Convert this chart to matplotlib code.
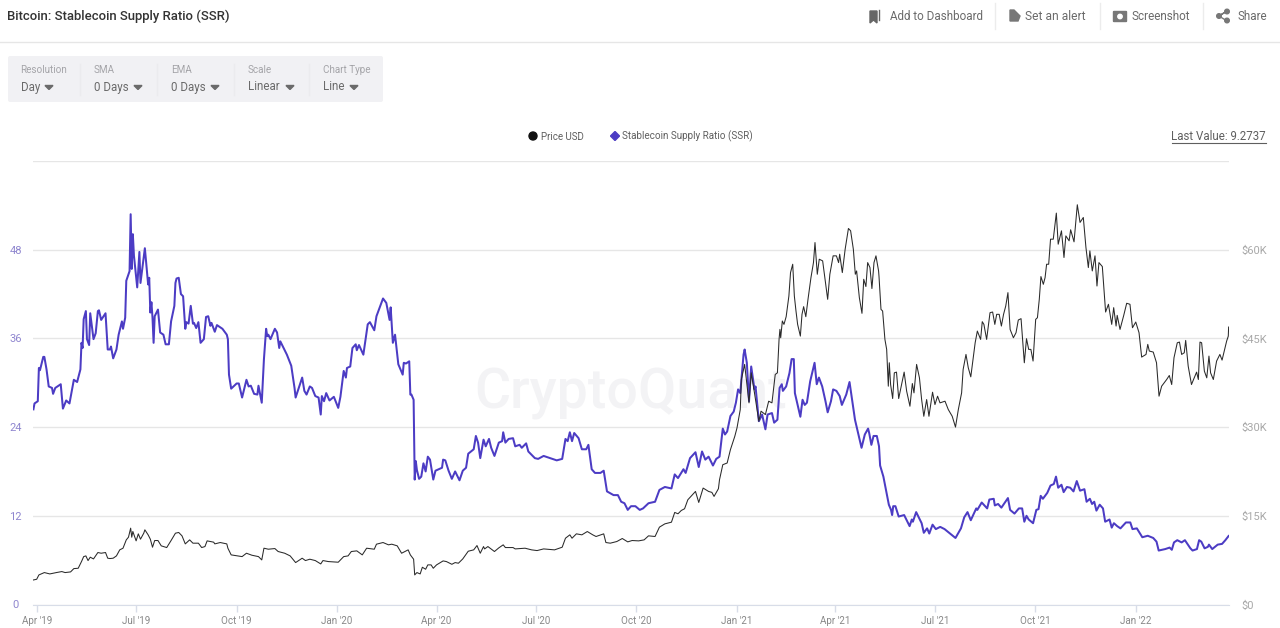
import matplotlib
matplotlib.use('Agg')
import matplotlib.pyplot as plt
from matplotlib.patches import FancyBboxPatch, Polygon, Circle, Rectangle
import pandas as pd

plt.rcParams['font.family'] = ['Roboto', 'DejaVu Sans']

# days since 1 Apr 2019
ssr_days = [-3, -2, 1, 2, 3, 6, 7, 9, 11, 14, 15, 17, 22, 24, 27, 30, 34, 37, 40, 41, 42, 43, 45, 46, 48, 49, 52, 54, 56, 57,
            59, 63, 65, 67, 68, 70, 73, 75, 78, 79, 81, 82, 85, 86, 87, 88, 89, 92, 94, 95, 99, 102, 103, 104, 105, 106, 107, 108, 111, 113,
            116, 118, 121, 123, 126, 127, 128, 130, 132, 134, 136, 137, 139, 141, 143, 144, 146, 148, 150, 153, 155, 157, 159, 160, 163, 165, 170, 174, 175, 176,
            178, 183, 185, 188, 192, 194, 196, 199, 202, 203, 206, 208, 210, 211, 212, 214, 218, 220, 222, 223, 226, 229, 233, 236, 237, 243, 245, 247, 250, 252,
            255, 258, 260, 261, 263, 265, 268, 272, 276, 278, 281, 283, 284, 287, 289, 292, 293, 295, 299, 303, 305, 309, 311, 317, 320, 323, 324, 326, 328, 331,
            335, 336, 338, 341, 342, 343, 345, 346, 347, 348, 350, 352, 354, 356, 358, 360, 363, 365, 371, 372, 374, 377, 380, 383, 387, 390, 393, 395, 400, 402,
            404, 406, 409, 411, 414, 416, 419, 423, 426, 427, 429, 432, 436, 438, 442, 444, 448, 450, 456, 459, 464, 470, 476, 481, 484, 486, 488, 490, 492, 496,
            499, 503, 505, 508, 511, 516, 519, 522, 528, 532, 535, 538, 541, 544, 548, 552, 555, 560, 566, 570, 575, 581, 584, 587, 592, 594, 598, 603, 606, 609,
            612, 615, 619, 622, 625, 628, 630, 632, 635, 638, 640, 642, 644, 647, 648, 650, 652, 654, 657, 658, 661, 664, 667, 669, 673, 675, 678, 680, 682, 683,
            686, 689, 691, 693, 694, 696, 699, 701, 703, 705, 708, 712, 714, 716, 719, 722, 724, 727, 729, 732, 735, 737, 741, 744, 745, 749, 753, 755, 758, 761,
            762, 764, 766, 769, 771, 772, 775, 779, 780, 782, 783, 784, 786, 789, 794, 799, 801, 802, 805, 810, 812, 815, 817, 820, 823, 827, 831, 836, 841, 846,
            849, 852, 855, 860, 861, 865, 870, 872, 876, 877, 880, 883, 889, 891, 895, 899, 902, 904, 906, 908, 912, 915, 917, 919, 921, 925, 928, 931, 933, 935,
            938, 940, 943, 946, 949, 952, 955, 959, 961, 964, 966, 968, 970, 973, 976, 978, 982, 984, 986, 989, 992, 997, 1001, 1003, 1007, 1012, 1017, 1022, 1025, 1027,
            1033, 1037, 1039, 1041, 1044, 1048, 1051, 1056, 1058, 1062, 1064, 1066, 1069, 1072, 1073, 1076, 1081, 1085, 1088, 1091]
ssr_values = [26.4, 27.2, 27.5, 32.0, 31.7, 33.5, 33.5, 31.8, 29.5, 29.3, 28.5, 29.3, 29.8, 26.5, 27.6, 27.2, 30.4, 30.1, 31.8, 35.4, 34.7, 38.6, 39.7, 35.9, 35.1, 39.4, 35.9, 36.7, 39.7, 39.8,
              38.5, 39.4, 34.5, 34.5, 34.9, 33.3, 34.5, 36.5, 38.3, 37.3, 38.8, 43.8, 45.1, 52.8, 45.4, 50.1, 47.2, 42.9, 47.7, 43.5, 48.2, 43.3, 44.2, 39.5, 40.9, 38.8, 35.4, 39.0, 39.9, 36.8,
              36.5, 35.2, 35.2, 38.3, 40.4, 43.5, 44.1, 44.2, 42.0, 41.7, 37.3, 38.2, 38.0, 40.4, 38.0, 38.1, 37.4, 38.2, 35.4, 35.9, 38.9, 39.0, 37.7, 38.1, 36.9, 37.8, 37.3, 36.5, 35.9, 31.1,
              29.2, 29.9, 29.9, 28.0, 30.4, 29.5, 29.6, 28.5, 28.4, 29.6, 27.3, 33.2, 37.3, 36.3, 36.5, 35.9, 37.3, 36.8, 34.7, 35.6, 34.7, 33.8, 32.3, 29.3, 28.0, 30.7, 28.9, 28.4, 29.5, 29.3,
              28.2, 28.0, 25.7, 28.2, 27.5, 28.6, 27.6, 28.1, 26.6, 28.1, 31.6, 30.7, 32.0, 32.2, 34.7, 35.2, 34.4, 35.1, 33.8, 37.9, 38.2, 37.1, 39.0, 41.4, 40.8, 38.5, 40.2, 35.4, 36.5, 32.5,
              31.1, 32.7, 32.6, 32.9, 28.4, 28.4, 27.7, 16.9, 19.4, 18.2, 17.0, 17.3, 19.1, 18.0, 20.0, 19.6, 16.9, 18.1, 18.5, 19.6, 19.5, 18.1, 17.0, 18.0, 16.8, 18.1, 18.5, 20.4, 21.0, 22.8,
              21.9, 19.8, 22.3, 21.4, 22.4, 21.2, 20.1, 21.9, 22.1, 23.3, 21.9, 22.4, 22.5, 21.4, 21.6, 21.2, 21.8, 20.7, 19.8, 19.7, 20.1, 19.8, 19.5, 19.7, 22.4, 22.1, 23.3, 22.1, 23.2, 22.5,
              21.0, 21.0, 21.6, 18.3, 17.8, 17.8, 18.1, 15.3, 14.8, 14.8, 13.9, 13.7, 12.8, 13.3, 13.3, 12.8, 13.0, 13.7, 13.9, 15.5, 15.9, 15.7, 17.6, 17.1, 18.3, 17.8, 19.8, 20.6, 18.6, 20.7,
              19.6, 20.0, 18.8, 19.7, 20.0, 23.8, 23.0, 23.4, 25.5, 26.1, 27.3, 29.1, 28.6, 33.8, 34.5, 32.7, 27.5, 32.2, 29.1, 29.5, 24.8, 25.7, 23.7, 25.7, 25.9, 24.6, 25.0, 29.3, 29.8, 28.9,
              29.5, 31.3, 33.2, 33.2, 28.6, 27.3, 25.4, 27.7, 27.0, 27.3, 30.2, 32.7, 29.8, 30.7, 29.5, 27.5, 26.0, 27.5, 29.1, 28.9, 28.2, 27.0, 28.4, 30.1, 29.1, 25.0, 22.5, 21.2, 23.0, 23.8,
              23.2, 21.6, 22.8, 22.8, 21.4, 18.8, 17.3, 14.2, 13.5, 12.8, 12.1, 13.3, 13.3, 11.9, 12.1, 10.6, 11.5, 11.2, 12.5, 11.0, 9.7, 10.3, 9.6, 10.8, 10.2, 10.5, 10.2, 9.6, 9.0, 10.3,
              11.8, 12.5, 11.4, 13.0, 12.8, 13.8, 13.0, 14.2, 14.3, 13.4, 13.6, 13.1, 14.4, 12.8, 12.3, 13.0, 13.0, 11.2, 12.0, 11.5, 11.0, 12.8, 12.9, 14.7, 14.3, 15.1, 16.1, 16.3, 17.3, 15.8,
              16.2, 15.2, 15.9, 15.8, 15.3, 16.7, 15.4, 15.6, 13.9, 14.3, 13.6, 13.9, 12.7, 13.5, 13.0, 11.2, 11.5, 10.4, 11.0, 10.6, 10.3, 11.1, 11.1, 10.2, 10.3, 9.1, 9.3, 9.0, 8.5, 7.3,
              7.5, 7.7, 7.4, 8.4, 8.7, 8.4, 8.7, 7.6, 7.3, 7.5, 8.7, 8.5, 7.6, 7.8, 8.1, 7.5, 8.1, 8.2, 8.7, 9.27]

price_days = [-3, 0, 2, 7, 12, 18, 23, 26, 31, 34, 38, 41, 43, 45, 47, 49, 52, 56, 59, 63, 65, 67, 70, 73, 76, 79, 82, 84, 86, 87,
              88, 91, 93, 95, 98, 99, 102, 104, 106, 108, 111, 114, 119, 123, 127, 130, 133, 136, 140, 143, 148, 151, 154, 156, 162, 163, 168, 174, 175, 178,
              182, 188, 192, 197, 203, 206, 208, 212, 218, 221, 227, 232, 237, 243, 246, 250, 255, 260, 262, 267, 276, 281, 285, 288, 293, 298, 302, 309, 311, 317,
              322, 325, 330, 334, 340, 342, 345, 346, 348, 351, 353, 356, 358, 361, 363, 366, 372, 375, 380, 383, 386, 390, 395, 400, 403, 406, 409, 410, 413, 419,
              423, 427, 429, 436, 438, 447, 453, 458, 464, 474, 481, 484, 488, 490, 494, 499, 504, 509, 512, 519, 521, 525, 531, 536, 541, 545, 551, 556, 560, 566,
              570, 575, 581, 584, 587, 590, 593, 596, 601, 603, 606, 610, 615, 618, 620, 624, 625, 628, 632, 635, 639, 641, 644, 645, 648, 652, 654, 657, 661, 663,
              667, 670, 673, 676, 678, 679.5, 680.3, 681, 682.5, 684, 686, 688.5, 690, 692, 693.5, 695, 696.5, 699, 700.5, 702, 704, 706, 708.7, 711, 712.4, 714.5, 716.3, 719.4, 722, 724,
              726, 729, 732, 734, 735, 737.4, 740, 743, 745, 747.5, 749.3, 750.5, 753, 755.4, 757, 759, 760.6, 762.7, 764.5, 766.4, 768.2, 770.6, 771, 772.8, 774.3, 776.4, 778, 779.5, 780.4, 781.6,
              783.5, 785, 787, 789, 791.7, 794, 796.3, 799.3, 801.5, 803, 805.4, 808, 810, 812, 814.6, 816.7, 820, 822.2, 824.6, 826.8, 831.4, 834.4, 838, 841, 843.6, 846.6, 848, 850.6, 852.7, 855,
              859, 861, 864, 865.5, 867, 869.5, 872.6, 875, 877, 878.7, 881, 883, 885, 887, 889, 891, 894, 896.4, 898.5, 901, 904, 906, 908, 910, 912, 914.4, 916, 917.7, 919.2, 921.4,
              923, 924.4, 926.3, 928, 930.5, 933.3, 935, 938, 940.3, 942, 945, 946.4, 949.5, 952.5, 955, 958, 960.4, 962.6, 964, 966.2, 968.7, 970.5, 972.3, 975.4, 978.4, 981, 984, 985.8, 988, 989,
              991.6, 995, 997.7, 1000.7, 1003, 1006, 1009, 1011.4, 1015.4, 1017, 1018.4, 1022, 1025, 1027.3, 1029.7, 1034.3, 1036.7, 1038.9, 1041, 1044, 1046, 1048, 1050.4, 1051.7, 1054, 1057, 1061.7, 1063.3, 1064.8, 1066.3,
              1068.8, 1071, 1073, 1074.5, 1077, 1080, 1083, 1085, 1089.2, 1090.7, 1091]
price_values = [4150, 4270, 5000, 5400, 5170, 5400, 5570, 5400, 5510, 6070, 6130, 7260, 8100, 8220, 7430, 8000, 7710, 8790, 8670, 8790, 7830, 7770, 7830, 8220, 9240, 9520, 10930, 11380, 12910, 11380,
                12350, 10760, 11950, 11050, 12060, 12630, 11780, 11050, 9690, 10820, 10820, 9920, 9630, 10820, 12060, 12180, 11610, 10250, 10930, 10370, 10370, 9630, 9800, 10760, 10540, 10250, 10480, 10250, 9520, 8390,
                8280, 8100, 8670, 8330, 8100, 7540, 9520, 9350, 9460, 8960, 8670, 8220, 7090, 7830, 7430, 7660, 7430, 6860, 7430, 7260, 7150, 8100, 8220, 8960, 9070, 8390, 9520, 9350, 10200, 10480,
                10090, 10200, 9920, 8670, 9240, 8390, 7660, 5000, 5400, 5170, 6300, 5960, 6700, 6700, 6130, 6700, 7370, 7260, 6800, 7090, 6980, 7710, 9010, 9240, 9970, 8670, 9800, 9400, 9800, 8960,
                9580, 10090, 9630, 9630, 9400, 9520, 9240, 9120, 9400, 9240, 9690, 11210, 11780, 11210, 11950, 11780, 12340, 11780, 11500, 11950, 10480, 10370, 10650, 11160, 10590, 10820, 10760, 10930, 11610, 11500,
                13080, 13640, 13920, 15570, 15340, 15900, 16190, 17710, 18730, 19120, 17260, 19690, 19120, 18960, 18280, 19580, 21100, 23640, 23930, 26190, 28450, 29860, 32970, 38050, 40600, 34100, 39180, 35790, 30990, 32690,
                32120, 34380, 34100, 38900, 39180, 44830, 46530, 45110, 47940, 47370, 48670, 52170, 56130, 57540, 52170, 49630, 47370, 45390, 49070, 50370, 48670, 51610, 55280, 57820, 61210, 55850, 58390, 58110, 54430, 51610,
                55850, 58960, 58960, 57820, 59240, 56130, 60080, 63590, 63200, 60080, 55850, 56410, 51890, 49240, 55000, 53770, 57820, 56980, 53430, 57820, 58960, 56410, 55450, 49910, 49630, 44830, 43140, 36920, 40880, 37200,
                34830, 39180, 39300, 34830, 37200, 39300, 36070, 33530, 37370, 35790, 40600, 38330, 34660, 31830, 34660, 31830, 35900, 33810, 35230, 34100, 34380, 32970, 31830, 30000, 32970, 35790, 39750, 42290, 40030, 38500,
                44260, 46240, 44830, 47830, 47370, 44830, 49350, 49460, 47370, 49070, 49070, 47090, 49070, 50480, 52740, 46520, 45110, 45960, 48110, 48340, 40880, 44950, 43140, 43140, 41170, 48220, 48500, 51610, 55460, 54150,
                55280, 57540, 57540, 61780, 61780, 66190, 60930, 63190, 58680, 62340, 61500, 63370, 61330, 67600, 64610, 65450, 60370, 56980, 59800, 56410, 58960, 53860, 57820, 57150, 49460, 50770, 47370, 50200, 47090, 48900,
                46520, 48900, 50940, 50770, 46800, 47770, 45960, 41840, 42290, 43990, 42860, 42690, 40880, 35230, 36920, 38050, 38730, 37200, 41730, 44260, 44380, 42290, 42570, 44660, 40310, 37200, 39300, 38050, 44380, 44260,
                39470, 38330, 42010, 39180, 38050, 41170, 42290, 41330, 44550, 45390, 46920]

tick_dates = ['2019-04-01', '2019-07-01', '2019-10-01', '2020-01-01', '2020-04-01', '2020-07-01',
              '2020-10-01', '2021-01-01', '2021-04-01', '2021-07-01', '2021-10-01', '2022-01-01']
tick_labels = ["Apr '19", "Jul '19", "Oct '19", "Jan '20", "Apr '20", "Jul '20",
               "Oct '20", "Jan '21", "Apr '21", "Jul '21", "Oct '21", "Jan '22"]
ssr_ticks = [0, 12, 24, 36, 48, 60]
ssr_tick_labels = ['0', '12', '24', '36', '48', '']
price_ticks = [0, 15000, 30000, 45000, 60000, 75000]
price_tick_labels = ['$0', '$15K', '$30K', '$45K', '$60K', '']

PURPLE = '#4c3cc4'
W, H = 1280, 628

fig = plt.figure(figsize=(W / 100, H / 100), dpi=100, facecolor='white')

# page furniture in pixel coordinates
ui = fig.add_axes([0, 0, 1, 1], zorder=0)
ui.set_xlim(0, W)
ui.set_ylim(H, 0)
ui.axis('off')

ui.text(7, 16, 'Bitcoin: Stablecoin Supply Ratio (SSR)', fontsize=9.45, color='#333333', va='center', fontweight='medium')
ui.plot([0, W], [42, 42], color='#e6e6e6', lw=1)

header_items = [(890, 'Add to Dashboard', 8.35), (1025, 'Set an alert', 8.65), (1132, 'Screenshot', 8.5), (1237, 'Share', 8.4)]
for x, label, size in header_items:
    ui.text(x, 16, label, fontsize=size, color='#6a6a6a', va='center')
for x in [995, 1100, 1203]:
    ui.plot([x, x], [3, 29], color='#ececec', lw=1)

# icons
ui.add_patch(Polygon([(870, 11), (877, 11), (877, 23), (873.5, 20), (870, 23)], color='#666666'))
ui.plot([879, 879], [10, 20], color='#666666', lw=1)
ui.add_patch(Polygon([(1010, 10), (1014, 10), (1020, 16), (1018, 21), (1010, 21)], color='#777777'))
ui.add_patch(FancyBboxPatch((1114, 12), 12, 9, boxstyle='round,pad=0.5', color='#777777'))
ui.add_patch(Circle((1120, 16.5), 2.2, color='white'))
ui.plot([1219, 1227, 1219, 1227], [16, 11, 16, 21], color='#777777', lw=1)
for cx, cy in [(1219, 16), (1227, 11.5), (1227, 20.5)]:
    ui.add_patch(Circle((cx, cy), 2.3, color='#777777'))

# filter panel
ui.add_patch(FancyBboxPatch((10, 58), 371, 42, boxstyle='round,pad=2', color='#f1f1f4', lw=0))
panel_items = [(20.5, 'Resolution', 'Day', 49), (93.5, 'SMA', '0 Days', 138), (171, 'EMA', '0 Days', 215),
               (248, 'Scale', 'Linear', 290), (323, 'Chart Type', 'Line', 354)]
for x, top, bottom, caret in panel_items:
    ui.text(x, 70, top, fontsize=7.1, color='#a4a4a8', va='center')
    ui.text(x, 87, bottom, fontsize=8.3, color='#6a6a6a', va='center')
    ui.add_patch(Polygon([(caret - 4, 85.5), (caret + 4, 85.5), (caret, 89.5)], color='#6a6a6a'))
for x in [80, 157, 234, 309]:
    ui.plot([x, x], [64, 95], color='#ebebee', lw=1)

# legend
ui.add_patch(Circle((533, 136), 4, color='#111111'))
ui.text(541, 136.5, 'Price USD', fontsize=7.0, color='#5f5f5f', va='center')
ui.add_patch(Polygon([(615, 131.5), (619.5, 136), (615, 140.5), (610.5, 136)], color=PURPLE))
ui.text(622, 136.5, 'Stablecoin Supply Ratio (SSR)', fontsize=7.1, color='#5f5f5f', va='center')

ui.text(1266, 136.5, 'Last Value: 9.2737', fontsize=8.3, color='#5f5f5f', va='center', ha='right')
ui.plot([1171.5, 1266], [143, 143], color='#5f5f5f', lw=0.8)

# chart
left_px, right_px, top_px, bottom_px = 33, 1229, 161, 604.5
ax = fig.add_axes([left_px / W, 1 - bottom_px / H, (right_px - left_px) / W, (bottom_px - top_px) / H], zorder=1)
ax.patch.set_alpha(0)
ax.set_xlim((left_px - 36.7) / 1.0925, (right_px - 36.7) / 1.0925)
ax.set_ylim(0, 60)
ax.set_yticks(ssr_ticks)
ax.set_yticklabels(ssr_tick_labels)
ax.grid(axis='y', color='#e6e6e6', lw=1)
ax.set_axisbelow(True)
for s in ['top', 'left', 'right']:
    ax.spines[s].set_visible(False)
ax.spines['bottom'].set_color('#d8dde8')
ax.tick_params(axis='y', length=0, pad=12.5, labelsize=8, labelcolor='#8f86cf')
for lab in ax.get_yticklabels():
    lab.set_ha('center')

start = pd.Timestamp('2019-04-01')
ax.set_xticks([(pd.Timestamp(d) - start).days for d in tick_dates])
ax.set_xticklabels(tick_labels)
ax.tick_params(axis='x', length=5, width=1, color='#d8dde8', pad=3, labelsize=7.1, labelcolor='#888888')

ax.text(0.5, 0.475, 'CryptoQuant', transform=ax.transAxes, fontsize=40, color='#f3f3f5',
        ha='center', va='center', fontweight='medium', zorder=0.5)

ax.plot(ssr_days, ssr_values, color=PURPLE, lw=1.45, zorder=3, solid_joinstyle='round')

ax2 = ax.twinx()
ax2.set_ylim(0, 75000)
ax2.set_yticks(price_ticks)
ax2.set_yticklabels(price_tick_labels)
for s in ax2.spines.values():
    s.set_visible(False)
ax2.tick_params(axis='y', length=0, pad=9, labelsize=8, labelcolor='#a8a8a8')
ax2.plot(price_days, price_values, color='#2a2a2a', lw=0.75, zorder=4)

fig.savefig('out.png', dpi=100)
